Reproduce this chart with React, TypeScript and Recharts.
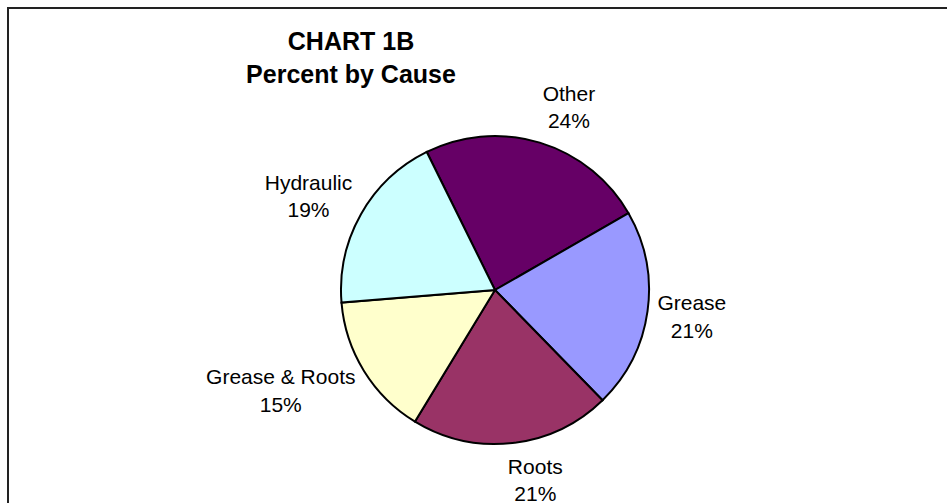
import { PieChart, Pie, Cell } from 'recharts';

// Percent of incidents by cause, clockwise from the top slice
const causes = ['Other', 'Grease', 'Roots', 'Grease & Roots', 'Hydraulic'];
const percents = [24, 21, 21, 15, 19];
const sliceColors = ['#660066', '#9999FF', '#993366', '#FFFFCC', '#CCFFFF'];

const titleLines = ['CHART 1B', 'Percent by Cause'];

const FONT = '"Liberation Sans", Arial, sans-serif';
const LABEL_SIZE = 21;
const LINE_GAP = 27.5;

const pieData = causes.map((name, i) => ({ name, value: percents[i] }));

let measureCtx: CanvasRenderingContext2D | null = null;
const textWidth = (s: string) => {
  if (!measureCtx) {
    measureCtx = document.createElement('canvas').getContext('2d');
  }
  if (!measureCtx) return s.length * LABEL_SIZE * 0.55;
  measureCtx.font = `${LABEL_SIZE}px ${FONT}`;
  return measureCtx.measureText(s).width;
};

const clamp = (v: number) => Math.max(-1, Math.min(1, v));

// Two-line outside label: the block sits just past the rim, pushed out
// by its own half-width sideways and a little more vertically.
const renderLabel = (props: any) => {
  const { cx, cy, midAngle, outerRadius, index } = props;
  const rad = (midAngle * Math.PI) / 180;
  const dx = Math.cos(rad);
  const dy = -Math.sin(rad);
  const name = causes[index];
  const pct = `${percents[index]}%`;
  const hw = Math.max(textWidth(name), textWidth(pct)) / 2;
  const r = outerRadius + 10;
  const x = cx + dx * r + hw * clamp(dx * 7);
  const y = cy + dy * r + dy * 27;
  return (
    <text
      x={x}
      y={y - 6.25}
      textAnchor="middle"
      fill="#000"
      fontFamily={FONT}
      fontSize={LABEL_SIZE}
    >
      <tspan x={x}>{name}</tspan>
      <tspan x={x} dy={LINE_GAP}>
        {pct}
      </tspan>
    </text>
  );
};

export default function App() {
  return (
    <div
      style={{
        position: 'fixed',
        left: 7,
        top: 7,
        width: 980,
        height: 540,
        border: '2px solid #222',
        background: '#fff',
      }}
    >
      <div style={{ position: 'relative', width: 940, height: 494 }}>
        <PieChart
          width={940}
          height={494}
          margin={{ top: 0, right: 0, bottom: 0, left: 0 }}
        >
          <Pie
            data={pieData}
            dataKey="value"
            nameKey="name"
            cx={486}
            cy={281}
            outerRadius={154}
            startAngle={116.3}
            endAngle={-243.7}
            stroke="#000"
            strokeWidth={2}
            label={renderLabel}
            labelLine={false}
            isAnimationActive={false}
          >
            {pieData.map((d, i) => (
              <Cell key={d.name} fill={sliceColors[i]} />
            ))}
          </Pie>
        </PieChart>
        <svg
          width={940}
          height={494}
          style={{ position: 'absolute', left: 0, top: 0, pointerEvents: 'none' }}
        >
          <text
            x={342}
            y={41}
            textAnchor="middle"
            fontFamily={FONT}
            fontSize={25}
            fontWeight="bold"
            fill="#000"
          >
            <tspan x={342}>{titleLines[0]}</tspan>
            <tspan x={342} dy={32.7}>
              {titleLines[1]}
            </tspan>
          </text>
        </svg>
      </div>
    </div>
  );
}
